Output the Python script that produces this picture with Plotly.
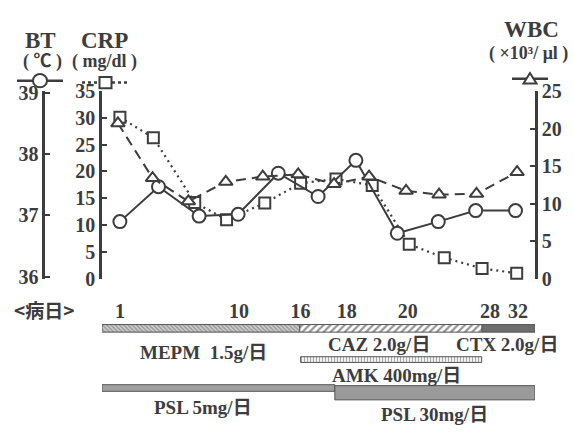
import plotly.graph_objects as go

W, H = 574, 436
ML, MR, MT, MB = 30, 36, 10, 10
PW = W - ML - MR
PH = H - MT - MB


def px(x):
    return (x - ML) / PW


def py(y):
    return (H - MB - y) / PH


# ---------------- data (x in chart position units along the day axis) ----------------
bt_pos = [0.0, 0.97, 1.99, 2.97, 3.98, 4.98, 5.93, 6.97, 8.0, 8.94, 9.94]
bt_val = [36.90, 37.47, 36.99, 37.02, 37.69, 37.31, 37.90, 36.71, 36.90, 37.08, 37.08]

crp_pos = [0.0, 0.84, 1.88, 2.68, 3.64, 4.54, 5.43, 6.34, 7.27, 8.15, 9.10, 9.97]
crp_val = [30.1, 26.3, 14.2, 11.0, 14.1, 17.8, 18.6, 17.4, 6.4, 3.9, 1.9, 1.0]

wbc_pos = [-0.05, 0.82, 1.72, 2.66, 3.59, 4.48, 5.38, 6.26, 7.19, 8.02, 8.96, 9.98]
wbc_val = [20.7, 13.4, 10.3, 12.9, 13.6, 13.9, 12.6, 13.6, 11.7, 11.2, 11.3, 14.2]

day_tick_pos = [0.0, 2.99, 4.54, 5.70, 7.23, 9.30, 10.0]
day_tick_text = ["1", "10", "16", "18", "20", "28", "32"]

bt_ticks = [36, 37, 38, 39]
crp_ticks = [0, 5, 10, 15, 20, 25, 30, 35]
wbc_ticks = [0, 5, 10, 15, 20, 25]

drug_names = ["MEPM", "CAZ", "CTX", "AMK", "PSL 5mg", "PSL 30mg"]
drug_start = [-0.45, 4.52, 9.10, 4.54, -0.45, 5.40]
drug_end = [4.52, 9.10, 10.43, 9.09, 5.40, 10.43]
drug_labels = ["MEPM  1.5g/日", "CAZ 2.0g/日", "CTX 2.0g/日", "AMK 400mg/日", "PSL 5mg/日", "PSL 30mg/日"]

# ---------------- styles ----------------
INK = "#3d3d3d"
SERIF = "Liberation Serif, 'Noto Sans CJK JP', serif"
CJK = "'Noto Sans CJK JP', sans-serif"

bar_row = [334.5, 334.5, 334.5, 367.5, 397.5, 402.5]
bar_thick = [8, 8, 8, 6, 7, 15]
bar_style = [
    dict(color="white", pattern=dict(shape="\\", fgcolor="#666666", bgcolor="#cfcfcf", size=3, solidity=0.5)),
    dict(color="white", pattern=dict(shape="/", fgcolor="#2a2a2a", bgcolor="white", size=5, solidity=0.45)),
    dict(color="#6a6a6a", pattern=dict(shape=".", fgcolor="#444444", bgcolor="#7a7a7a", size=2, solidity=0.5)),
    dict(color="white", pattern=dict(shape="|", fgcolor="#555555", bgcolor="white", size=3, solidity=0.45)),
    dict(color="#a0a0a0"),
    dict(color="#9a9a9a"),
]
label_xy = [(203, 360), (379, 352), (507, 352), (396, 384), (203, 418), (434, 425)]

fig = go.Figure()

fig.add_trace(go.Scatter(
    x=wbc_pos, y=wbc_val, yaxis="y3", mode="lines+markers", name="WBC",
    line=dict(color=INK, width=2, dash="10px,6px"),
    marker=dict(symbol="triangle-up", size=12, color="white", line=dict(color=INK, width=2)),
    cliponaxis=False,
))
fig.add_trace(go.Scatter(
    x=crp_pos, y=crp_val, yaxis="y", mode="lines+markers", name="CRP",
    line=dict(color=INK, width=2.2, dash="2px,4px"),
    marker=dict(symbol="square", size=11, color="white", line=dict(color=INK, width=2)),
    cliponaxis=False,
))
fig.add_trace(go.Scatter(
    x=bt_pos, y=bt_val, yaxis="y2", mode="lines+markers", name="BT",
    line=dict(color=INK, width=2),
    marker=dict(symbol="circle", size=13, color="white", line=dict(color=INK, width=2)),
    cliponaxis=False,
))

for i, name in enumerate(drug_names):
    st = bar_style[i]
    mk = dict(color=st["color"], line=dict(color="#555555", width=1))
    if "pattern" in st:
        mk["pattern"] = st["pattern"]
    fig.add_trace(go.Bar(
        orientation="h", y=[bar_row[i]], x=[drug_end[i] - drug_start[i]], base=[drug_start[i]],
        width=[bar_thick[i]], xaxis="x2", yaxis="y4", marker=mk, name=name,
        hoverinfo="skip",
    ))

tickfont = dict(family=SERIF, size=20, color=INK, weight="bold")
axis_common = dict(showgrid=False, zeroline=False, showline=True, linecolor=INK, linewidth=2.5,
                   ticks="inside", ticklen=5, tickwidth=2, tickcolor=INK, tickfont=tickfont)

fig.update_layout(
    width=W, height=H,
    margin=dict(l=ML, r=MR, t=MT, b=MB),
    paper_bgcolor="white", plot_bgcolor="white",
    showlegend=False, barmode="overlay",
    xaxis=dict(domain=[px(102), px(535)], range=[-0.45, 10.43], anchor="y",
               tickvals=day_tick_pos, ticktext=day_tick_text, ticks="", showline=False,
               showgrid=False, zeroline=False, tickfont=tickfont, ticklabelstandoff=18),
    yaxis=dict(domain=[py(282), py(84)], range=[0, 35], tickvals=crp_ticks, anchor="x",
               side="left", **axis_common),
    yaxis2=dict(overlaying="y", anchor="free", position=px(43.3), side="left",
                range=[35.97, 39.03], tickvals=bt_ticks, **axis_common),
    yaxis3=dict(overlaying="y", anchor="x", side="right", range=[0, 25], tickvals=wbc_ticks,
                **axis_common),
    xaxis2=dict(domain=[px(102), px(535)], matches="x", anchor="y4", visible=False),
    yaxis4=dict(domain=[py(416), py(326)], range=[416, 326], visible=False),
)

ann = []


def txt(x, y, s, size, family=SERIF, bold=True):
    ann.append(dict(xref="paper", yref="paper", x=px(x), y=py(y), text=s, showarrow=False,
                    xanchor="center", yanchor="middle",
                    font=dict(family=family, size=size, color=INK, weight="bold" if bold else "normal")))


txt(40, 31, "BT", 23)
txt(42, 53, "( ℃ )", 18)
txt(104, 31, "CRP", 23)
txt(104, 53, "( mg/dl )", 18)
txt(531, 19, "WBC", 23)
txt(528, 44, "( ×10³/ μl )", 18)
txt(44, 315, "&lt;病日&gt;", 19, family=CJK)
for i, lab in enumerate(drug_labels):
    txt(label_xy[i][0], label_xy[i][1], lab, 19)

shapes = []
shapes.append(dict(type="line", xref="paper", yref="paper", x0=px(17), x1=px(63), y0=py(73), y1=py(73),
                   line=dict(color=INK, width=2.5)))
shapes.append(dict(type="circle", xref="paper", yref="paper", x0=px(33), x1=px(47), y0=py(80), y1=py(66),
                   fillcolor="white", line=dict(color=INK, width=2)))
shapes.append(dict(type="line", xref="paper", yref="paper", x0=px(82), x1=px(127), y0=py(75), y1=py(75),
                   line=dict(color=INK, width=2.5, dash="dot")))
shapes.append(dict(type="rect", xref="paper", yref="paper", x0=px(99.5), x1=px(111.5), y0=py(81), y1=py(69),
                   fillcolor="white", line=dict(color=INK, width=2)))
shapes.append(dict(type="line", xref="paper", yref="paper", x0=px(512), x1=px(548), y0=py(71), y1=py(71),
                   line=dict(color=INK, width=2.5)))
tri = [(530, 65), (523.5, 76), (536.5, 76)]
path = "M {} {} L {} {} L {} {} Z".format(px(tri[0][0]), py(tri[0][1]), px(tri[1][0]), py(tri[1][1]),
                                          px(tri[2][0]), py(tri[2][1]))
shapes.append(dict(type="path", xref="paper", yref="paper", path=path, fillcolor="white",
                   line=dict(color=INK, width=2)))

fig.update_layout(annotations=ann, shapes=shapes)
fig.write_html("out.html", config={"displayModeBar": False},
               post_script="document.body.style.margin='0px';document.body.style.overflow='hidden';")
